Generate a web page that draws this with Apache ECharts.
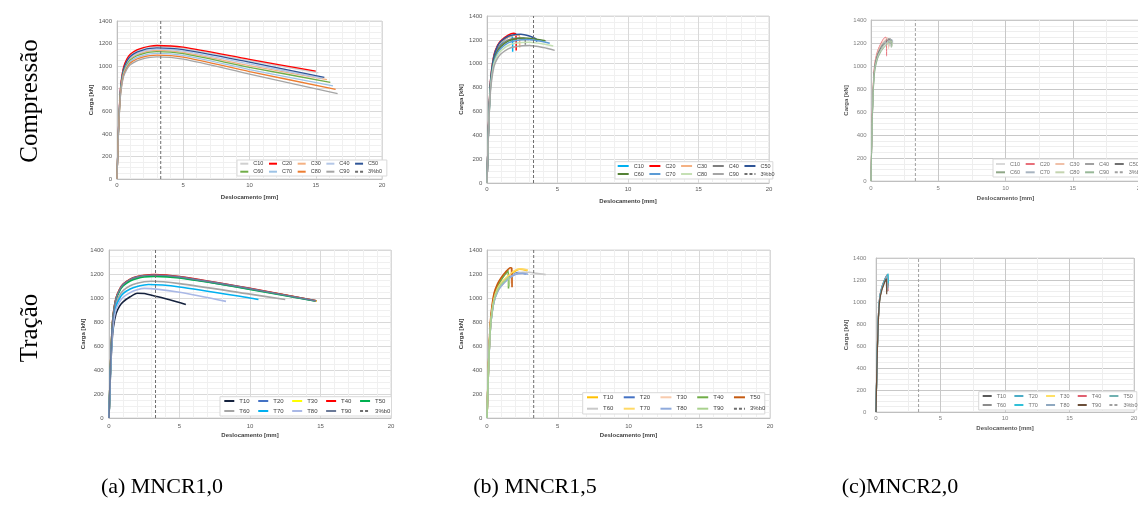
<!DOCTYPE html>
<html><head><meta charset="utf-8">
<script src="https://cdn.jsdelivr.net/npm/echarts@6/dist/echarts.min.js"></script>
<style>html,body{margin:0;padding:0;background:#fff}#c{width:1138px;height:506px}</style>
</head><body><div id="c"></div>
<script>
// ---------- categories ----------
const namesC = ['C10','C20','C30','C40','C50','C60','C70','C80','C90'];
const namesT = ['T10','T20','T30','T40','T50','T60','T70','T80','T90'];
const refName = '3%b0';
const dashLine = [[3.3,0],[3.3,1400]];   // 3% of b0 (mm)
const rowLabels = ['Compressão','Tração'];
const captions = ['(a) MNCR1,0','(b) MNCR1,5','(c)MNCR2,0'];

// ---------- (a) MNCR1,0 compression ----------
const aTopData = [
 [[0,0],[0.1,400],[0.2,682],[0.3,846],[0.5,987],[0.75,1058],[1,1099],[1.5,1136],[2,1157],[2.5,1170],[3,1175],[5,1160],[10,1050],[15.2,940]],
 [[0,0],[0.1,402],[0.2,686],[0.3,852],[0.5,994],[0.75,1065],[1,1106],[1.5,1144],[2,1165],[2.5,1178],[3,1183],[5,1168],[10,1060],[15.0,955]],
 [[0,0],[0.1,388],[0.2,661],[0.3,821],[0.5,958],[0.75,1026],[1,1066],[1.5,1103],[2,1123],[2.5,1135],[3,1140],[5,1122],[10,1005],[15.85,880]],
 [[0,0],[0.1,391],[0.2,667],[0.3,828],[0.5,966],[0.75,1035],[1,1075],[1.5,1112],[2,1133],[2.5,1145],[3,1150],[5,1133],[10,1020],[15.5,892]],
 [[0,0],[0.1,395],[0.2,674],[0.3,837],[0.5,976],[0.75,1046],[1,1086],[1.5,1124],[2,1145],[2.5,1157],[3,1162],[5,1146],[10,1035],[15.65,900]],
 [[0,0],[0.1,384],[0.2,654],[0.3,812],[0.5,948],[0.75,1015],[1,1055],[1.5,1092],[2,1111],[2.5,1124],[3,1128],[5,1110],[10,990],[16.1,857]],
 [[0,0],[0.1,378],[0.2,646],[0.3,801],[0.5,935],[0.75,1002],[1,1041],[1.5,1077],[2,1096],[2.5,1109],[3,1113],[5,1095],[10,970],[16.3,825]],
 [[0,0],[0.1,373],[0.2,637],[0.3,791],[0.5,922],[0.75,988],[1,1027],[1.5,1063],[2,1082],[2.5,1094],[3,1098],[5,1080],[10,952],[16.5,795]],
 [[0,0],[0.1,368],[0.2,628],[0.3,779],[0.5,909],[0.75,974],[1,1012],[1.5,1047],[2,1066],[2.5,1078],[3,1082],[5,1062],[10,930],[16.65,757]]
];
// ---------- (b) MNCR1,5 compression ----------
const bTopData = [
 [[0,0],[0.1,430],[0.2,740],[0.3,900],[0.5,1050],[0.75,1130],[1,1170],[1.3,1205],[1.6,1228],[1.8,1224],[1.82,1100]],
 [[0,0],[0.1,440],[0.2,760],[0.3,920],[0.5,1075],[0.75,1155],[1,1195],[1.5,1240],[1.9,1255],[2.05,1248],[2.07,1110]],
 [[0,0],[0.1,435],[0.2,750],[0.3,910],[0.5,1062],[0.75,1140],[1,1180],[1.5,1222],[2.1,1240],[2.3,1236],[2.32,1135]],
 [[0,0],[0.1,425],[0.2,730],[0.3,890],[0.5,1040],[0.75,1118],[1,1158],[1.5,1200],[2.2,1215],[2.7,1208],[2.72,1160]],
 [[0,0],[0.1,435],[0.2,750],[0.3,915],[0.5,1068],[0.75,1148],[1,1188],[1.5,1230],[2,1245],[2.4,1248],[3,1232],[3.5,1205],[3.52,1185]],
 [[0,0],[0.1,420],[0.2,720],[0.3,880],[0.5,1030],[0.75,1105],[1,1145],[1.5,1190],[2,1208],[2.6,1215],[3.5,1205],[4.15,1192]],
 [[0,0],[0.1,415],[0.2,710],[0.3,870],[0.5,1018],[0.75,1092],[1,1130],[1.5,1175],[2,1193],[2.8,1202],[3.6,1192],[4.45,1172]],
 [[0,0],[0.1,410],[0.2,700],[0.3,855],[0.5,1000],[0.75,1072],[1,1110],[1.5,1153],[2,1171],[3,1180],[4,1165],[4.7,1148]],
 [[0,0],[0.1,400],[0.2,685],[0.3,835],[0.5,978],[0.75,1046],[1,1083],[1.5,1125],[2,1143],[3,1152],[4,1135],[4.8,1112]]
];
// ---------- (c) MNCR2,0 compression ----------
const cTopData = [
 [[0,0],[0.05,300],[0.1,560],[0.2,880],[0.3,1010],[0.5,1105],[0.75,1165],[1,1205],[1.2,1228],[1.3,1226],[1.31,1180]],
 [[0,0],[0.05,320],[0.1,600],[0.2,920],[0.3,1040],[0.5,1135],[0.75,1200],[0.95,1240],[1.1,1250],[1.15,1244],[1.16,1085]],
 [[0,0],[0.05,310],[0.1,580],[0.2,900],[0.3,1025],[0.5,1120],[0.75,1185],[1,1225],[1.25,1245],[1.3,1240],[1.31,1150]],
 [[0,0],[0.05,305],[0.1,570],[0.2,890],[0.3,1015],[0.5,1110],[0.75,1172],[1,1212],[1.35,1240],[1.4,1236],[1.41,1170]],
 [[0,0],[0.05,300],[0.1,560],[0.2,880],[0.3,1005],[0.5,1100],[0.75,1160],[1,1200],[1.45,1235],[1.5,1232],[1.51,1190]],
 [[0,0],[0.05,295],[0.1,550],[0.2,870],[0.3,995],[0.5,1090],[0.75,1150],[1,1190],[1.5,1225],[1.55,1220],[1.56,1170]],
 [[0,0],[0.05,290],[0.1,545],[0.2,860],[0.3,990],[0.5,1085],[0.75,1145],[1,1185],[1.55,1230],[1.6,1226],[1.61,1200]],
 [[0,0],[0.05,285],[0.1,540],[0.2,850],[0.3,980],[0.5,1075],[0.75,1135],[1,1175],[1.5,1215],[1.55,1210],[1.56,1180]],
 [[0,0],[0.05,280],[0.1,530],[0.2,840],[0.3,970],[0.5,1065],[0.75,1125],[1,1165],[1.45,1210],[1.5,1205],[1.51,1160]]
];
// ---------- (a) MNCR1,0 tension ----------
const aBotData = [
 [[0,0],[0.1,355],[0.2,606],[0.3,748],[0.5,870],[0.75,932],[1,968],[1.5,1010],[2,1040],[2.5,1038],[3.3,1015],[4.3,985],[5.45,946]],
 [[0,0],[0.1,406],[0.2,695],[0.3,856],[0.5,994],[0.75,1066],[1,1108],[1.5,1150],[2,1171],[2.5,1183],[3.2,1188],[5,1172],[10,1075],[14.65,976]],
 [[0,0],[0.1,408],[0.2,698],[0.3,860],[0.5,997],[0.75,1069],[1,1112],[1.5,1154],[2,1175],[2.5,1187],[3.2,1192],[5,1175],[10,1077],[14.75,975]],
 [[0,0],[0.1,410],[0.2,700],[0.3,862],[0.5,1000],[0.75,1072],[1,1115],[1.5,1157],[2,1178],[2.5,1190],[3.2,1195],[5,1178],[10,1080],[14.7,977]],
 [[0,0],[0.1,404],[0.2,690],[0.3,850],[0.5,988],[0.75,1058],[1,1100],[1.5,1142],[2,1163],[2.5,1175],[3.2,1180],[5,1166],[10,1072],[14.6,975]],
 [[0,0],[0.1,390],[0.2,665],[0.3,820],[0.5,955],[0.75,1022],[1,1062],[1.5,1102],[2,1123],[2.5,1135],[3,1140],[5,1120],[10,1032],[12.5,988]],
 [[0,0],[0.1,380],[0.2,650],[0.3,800],[0.5,930],[0.75,997],[1,1037],[1.5,1075],[2,1096],[2.5,1108],[2.8,1112],[5,1092],[10,1000],[10.6,987]],
 [[0,0],[0.1,370],[0.2,630],[0.3,778],[0.5,905],[0.75,968],[1,1006],[1.5,1045],[2,1068],[2.5,1080],[5,1048],[8.3,972]],
 [[0,0],[0.1,409],[0.2,699],[0.3,861],[0.5,998],[0.75,1070],[1,1113],[1.5,1155],[2,1176],[2.5,1188],[3.2,1192],[5,1176],[10,1078],[14.7,976]]
];
// ---------- (b) MNCR1,5 tension ----------
const bBotData = [
 [[0,0],[0.1,395],[0.2,680],[0.3,835],[0.5,990],[0.75,1075],[1,1120],[1.5,1180],[2,1225],[2.3,1240],[2.85,1228]],
 [[0,0],[0.1,390],[0.2,670],[0.3,825],[0.5,975],[0.75,1060],[1,1105],[1.5,1165],[2,1205],[2.2,1212],[2.75,1200]],
 [[0,0],[0.1,415],[0.2,712],[0.3,872],[0.5,1030],[0.75,1110],[1,1160],[1.3,1205],[1.6,1245],[1.7,1242],[1.72,1120]],
 [[0,0],[0.1,400],[0.2,690],[0.3,850],[0.5,1010],[0.75,1095],[1,1150],[1.3,1200],[1.5,1228],[1.52,1080]],
 [[0,0],[0.1,420],[0.2,720],[0.3,880],[0.5,1040],[0.75,1120],[1,1170],[1.3,1215],[1.65,1252],[1.75,1250],[1.77,1090]],
 [[0,0],[0.1,385],[0.2,665],[0.3,820],[0.5,970],[0.75,1052],[1,1098],[1.5,1160],[2,1200],[2.5,1215],[3,1215],[3.5,1205],[4.15,1195]],
 [[0,0],[0.1,398],[0.2,685],[0.3,840],[0.5,995],[0.75,1080],[1,1125],[1.5,1185],[2,1232],[2.4,1243],[2.9,1232]],
 [[0,0],[0.1,388],[0.2,668],[0.3,822],[0.5,972],[0.75,1055],[1,1100],[1.5,1160],[2,1195],[2.5,1205],[2.9,1198]],
 [[0,0],[0.1,392],[0.2,675],[0.3,830],[0.5,985],[0.75,1068],[1,1115],[1.3,1150],[1.55,1175],[1.57,1095]]
];
// ---------- (c) MNCR2,0 tension ----------
const cBotData = [
 [[0,0],[0.05,300],[0.1,560],[0.2,900],[0.3,1050],[0.45,1130],[0.6,1180],[0.75,1220],[0.9,1250],[0.93,1255],[0.94,1150]],
 [[0,0],[0.05,295],[0.1,550],[0.2,890],[0.3,1040],[0.45,1122],[0.6,1172],[0.75,1212],[0.88,1240],[0.9,1238],[0.91,1140]],
 [[0,0],[0.05,290],[0.1,545],[0.2,885],[0.3,1035],[0.45,1118],[0.6,1168],[0.75,1208],[0.85,1230],[0.87,1228],[0.88,1120]],
 [[0,0],[0.05,310],[0.1,570],[0.2,905],[0.3,1055],[0.45,1135],[0.6,1185],[0.75,1225],[0.9,1252],[0.92,1250],[0.93,1100]],
 [[0,0],[0.05,300],[0.1,555],[0.2,895],[0.3,1045],[0.45,1126],[0.6,1176],[0.75,1216],[0.9,1245],[0.92,1243],[0.93,1130]],
 [[0,0],[0.05,285],[0.1,540],[0.2,880],[0.3,1030],[0.45,1112],[0.6,1162],[0.75,1200],[0.82,1215],[0.84,1212],[0.85,1090]],
 [[0,0],[0.05,305],[0.1,565],[0.2,900],[0.3,1050],[0.45,1132],[0.6,1182],[0.75,1222],[0.9,1250],[0.95,1257],[0.96,1170]],
 [[0,0],[0.05,290],[0.1,548],[0.2,888],[0.3,1038],[0.45,1120],[0.6,1170],[0.75,1210],[0.86,1235],[0.88,1232],[0.89,1110]],
 [[0,0],[0.05,280],[0.1,535],[0.2,875],[0.3,1025],[0.45,1108],[0.6,1158],[0.72,1195],[0.8,1210],[0.82,1208],[0.83,1070]]
];

// ---------- styles ----------
const aTopColors = ['#d0d0d0','#ff0000','#f4b183','#b4c7e7','#2f5597','#70ad47','#9dc3e6','#ed7d31','#a5a5a5'];
const bTopColors = ['#00b0f0','#ff0000','#f4b183','#7f7f7f','#2f5597','#548235','#5b9bd5','#c5e0b4','#a5a5a5'];
const cTopColors = ['#d9d9d9','#e8707a','#f0c0a8','#a0a0a0','#707070','#90a888','#a8b4c0','#c4d4b0','#98b898'];
const aBotColors = ['#14213d','#4472c4','#ffff00','#ff0000','#00b050','#a5a5a5','#00b0f0','#a9b8e6','#6b7a99'];
const bBotColors = ['#ffc000','#4472c4','#f8cbad','#70ad47','#c55a11','#c9c9c9','#ffd966','#8faadc','#a9d18e'];
const cBotColors = ['#595959','#4bacc6','#ffe066','#e06070','#6fb0b0','#8c8c8c','#30c0d8','#8fa8c0','#6b4f3a'];

const panels = [
 {key:'a1', names:namesC, data:aTopData, colors:aTopColors, lw:1.3, grid:{left:117,top:21,width:265,height:158},
  lg:{L:237,T:160,W:145,H:16,r1:163.7,r2:171.7,x0:239.3,iw:8,gap:4.6,fs:5.5}, xGap:15, yGap:20, xM:3, yM:5, xMinor:5, faded:false},
 {key:'b1', names:namesC, data:bTopData, colors:bTopColors, lw:1.5, grid:{left:487,top:16,width:282,height:167},
  lg:{L:615,T:161.7,W:153,H:17.3,r1:166,r2:174,x0:616.7,iw:11,gap:4.6,fs:5.5}, xGap:15, yGap:23, xM:3, yM:4.6, xMinor:5, faded:false},
 {key:'c1', names:namesC, data:cTopData, colors:cTopColors, lw:1, grid:{left:871,top:20,width:269,height:161},
  lg:{L:993,T:159,W:160,H:18,r1:164,r2:172.3,x0:995,iw:9,gap:4.6,fs:5.5}, xGap:14, yGap:21, xM:4, yM:4.3, xMinor:2, faded:true},
 {key:'a2', names:namesT, data:aBotData, colors:aBotColors, lw:1.6, grid:{left:109,top:250,width:282,height:168},
  lg:{L:220,T:396.7,W:170,H:19.3,r1:401,r2:411,x0:223.3,iw:10,gap:7.6,fs:6}, xGap:14.5, yGap:22, xM:5, yM:5.3, xMinor:5, faded:false},
 {key:'b2', names:namesT, data:bBotData, colors:bBotColors, lw:1.6, grid:{left:487,top:250,width:283,height:168},
  lg:{L:582.7,T:392.7,W:180.6,H:21.3,r1:397.3,r2:408.7,x0:586,iw:11,gap:9.4,fs:6}, xGap:14.5, yGap:22.5, xM:5, yM:4.6, xMinor:5, faded:false},
 {key:'c2', names:namesT, data:cBotData, colors:cBotColors, lw:1.2, grid:{left:876,top:258,width:258,height:154},
  lg:{L:978.7,T:391.7,W:156.3,H:18.3,r1:396,r2:405,x0:981.7,iw:9,gap:7.2,fs:5.5}, xGap:13, yGap:21.5, xM:3.5, yM:9.6, xMinor:2, faded:true}
];

const grids=[], xAxes=[], yAxes=[], series=[], legends=[];
const fmt = n => n.split(':')[1];
const plain = v => String(v);
panels.forEach((p,i)=>{
  const txt = p.faded ? '#808080' : '#595959';
  const major = p.faded ? '#c8c8c8' : '#d9d9d9';
  const minor = p.faded ? '#eeeeee' : '#f0f0f0';
  grids.push(Object.assign({show:true, borderColor:'#d9d9d9', borderWidth:1, containLabel:false, outerBoundsMode:'none'}, p.grid));
  xAxes.push({gridIndex:i, type:'value', min:0, max:20, interval:5,
    name:'Deslocamento [mm]', nameLocation:'middle', nameGap:p.xGap,
    nameTextStyle:{fontSize:6, fontWeight:'bold', color:p.faded?'#555':'#404040'},
    axisLine:{show:true, onZero:false, lineStyle:{color:'#bfbfbf', width:1}}, axisTick:{show:false},
    axisLabel:{fontSize:6, color:txt, margin:p.xM, formatter:plain},
    splitLine:{show:true, lineStyle:{color:major, width:1}},
    minorTick:{show:false, splitNumber:p.xMinor}, minorSplitLine:{show:true, lineStyle:{color:minor, width:1}}});
  yAxes.push({gridIndex:i, type:'value', min:0, max:1400, interval:200,
    name:'Carga [kN]', nameLocation:'middle', nameGap:p.yGap,
    nameTextStyle:{fontSize:6, fontWeight:'bold', color:p.faded?'#555':'#404040'},
    axisLine:{show:true, onZero:false, lineStyle:{color:'#bfbfbf', width:1}}, axisTick:{show:false},
    axisLabel:{fontSize:6, color:txt, margin:p.yM, formatter:plain},
    splitLine:{show:true, lineStyle:{color:major, width:1}},
    minorTick:{show:false, splitNumber:4}, minorSplitLine:{show:true, lineStyle:{color:minor, width:1}}});
  p.names.forEach((n,k)=>{
    series.push({type:'line', name:p.key+':'+n, xAxisIndex:i, yAxisIndex:i, data:p.data[k],
      symbol:'none', showSymbol:false, smooth:0.25, silent:true,
      lineStyle:{color:p.colors[k], width:p.lw}, itemStyle:{color:p.colors[k]}});
  });
  series.push({type:'line', name:p.key+':'+refName, xAxisIndex:i, yAxisIndex:i, data:dashLine,
    symbol:'none', showSymbol:false, silent:true,
    lineStyle:{color:p.faded?'#a0a0a0':'#6e6e6e', width:1, type:[3,2]}, itemStyle:{color:'#6e6e6e'}});
  const g = p.lg, ih = 6, tw = g.fs*1.84;
  const contentW = 4*(g.iw+5+tw+g.gap) + (g.iw+5+tw);
  const row1 = p.names.slice(0,5).map(n=>p.key+':'+n);
  const row2 = p.names.slice(5).concat([refName]).map(n=>p.key+':'+n);
  const ts = {fontSize:g.fs, color:p.faded?'#707070':'#404040', fontFamily:'Liberation Sans'};
  const padT = g.r1 - ih/2 - g.T;
  const common = {formatter:fmt, selectedMode:false, orient:'horizontal', icon:'inherit',
    itemStyle:{opacity:0}, width:400, itemWidth:g.iw, itemHeight:ih, itemGap:g.gap, textStyle:ts};
  legends.push(Object.assign({data:row1, left:g.L, top:g.T,
    padding:[padT, Math.max(1, g.W-(g.x0-g.L)-contentW), g.H-padT-ih, g.x0-g.L],
    backgroundColor:'#ffffff', borderColor:'#d9d9d9', borderWidth:1}, common));
  legends.push(Object.assign({data:row2, left:g.x0, top:g.r2-ih/2, padding:0}, common));
});

const serif = {fontSize:25, fontFamily:'Liberation Serif', fill:'#000', align:'center', verticalAlign:'middle'};
const graphic = [
  {type:'text', x:30, y:101, rotation:Math.PI/2, style:Object.assign({text:rowLabels[0]}, serif)},
  {type:'text', x:30, y:328, rotation:Math.PI/2, style:Object.assign({text:rowLabels[1]}, serif)},
  {type:'text', x:162, y:487, style:Object.assign({text:captions[0]}, serif, {fontSize:22})},
  {type:'text', x:535, y:487, style:Object.assign({text:captions[1]}, serif, {fontSize:22})},
  {type:'text', x:900, y:487, style:Object.assign({text:captions[2]}, serif, {fontSize:22})}
];

const chart = echarts.init(document.getElementById('c'), null, {renderer:'canvas'});
chart.setOption({animation:false, backgroundColor:'#ffffff',
  textStyle:{fontFamily:'Liberation Sans'},
  grid:grids, xAxis:xAxes, yAxis:yAxes, series:series, legend:legends, graphic:graphic});
</script></body></html>
